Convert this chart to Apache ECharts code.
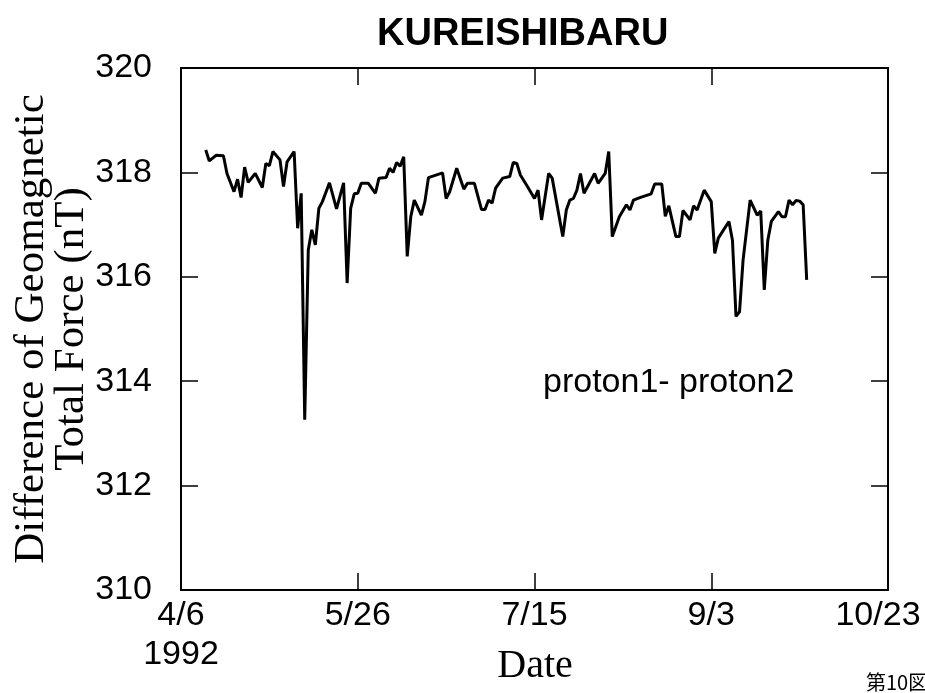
<!DOCTYPE html>
<html>
<head>
<meta charset="utf-8">
<script src="https://cdn.jsdelivr.net/npm/echarts@6/dist/echarts.min.js"></script>
<style>
  html, body { margin: 0; padding: 0; background: #fff; }
  #chart { width: 925px; height: 693px; }
</style>
</head>
<body>
<div id="chart"></div>
<script>
// days counted from 1992-04-06
const dayOffsets = [
  7, 8, 10, 12, 13, 15, 16, 17, 18, 19, 21, 23, 24, 25, 26, 28, 29, 30, 32, 33,
  34, 35, 36, 37, 38, 39, 40, 42, 44, 46, 47, 48, 49, 50, 51, 53, 55, 56, 58, 59,
  60, 61, 62, 63, 64, 65, 66, 68, 69, 70, 74, 75, 76, 78, 80, 81, 83, 85, 86, 87,
  88, 89, 91, 93, 94, 95, 96, 98, 100, 101, 102, 104, 105, 108, 109, 110, 111, 112, 113, 114,
  117, 118, 120, 121, 122, 124, 126, 127, 128, 130, 133, 134, 136, 137, 138, 140, 141, 142, 144, 145,
  146, 148, 150, 151, 152, 155, 156, 157, 158, 159, 161, 163, 164, 165, 166, 167, 169, 170, 171, 172,
  173, 174, 175, 176, 177
]
const diffValues = [
  318.43, 318.22, 318.33, 318.32, 317.98, 317.63, 317.87, 317.52, 318.10, 317.81, 317.98, 317.71, 318.17, 318.13, 318.40, 318.24, 317.73, 318.20, 318.40, 316.93,
  317.60, 313.26, 316.51, 316.90, 316.61, 317.31, 317.44, 317.80, 317.30, 317.80, 315.88, 317.31, 317.59, 317.60, 317.79, 317.79, 317.60, 317.89, 317.90, 318.08,
  318.00, 318.19, 318.12, 318.30, 316.39, 317.15, 317.47, 317.18, 317.44, 317.90, 317.99, 317.50, 317.63, 318.08, 317.68, 317.79, 317.79, 317.29, 317.29, 317.47,
  317.41, 317.70, 317.89, 317.92, 318.19, 318.17, 317.95, 317.73, 317.50, 317.66, 317.09, 317.98, 317.89, 316.77, 317.28, 317.47, 317.50, 317.66, 317.98, 317.60,
  317.98, 317.79, 317.98, 318.40, 316.77, 317.15, 317.38, 317.28, 317.47, 317.52, 317.59, 317.78, 317.78, 317.16, 317.36, 316.77, 316.77, 317.27, 317.09, 317.36,
  317.28, 317.66, 317.44, 316.45, 316.74, 317.06, 316.70, 315.24, 315.33, 316.32, 317.47, 317.18, 317.26, 315.75, 316.70, 317.06, 317.25, 317.15, 317.15, 317.47,
  317.38, 317.46, 317.45, 317.38, 315.94
]
const dateTickLabels = ['4/6\n1992', '5/26', '7/15', '9/3', '10/23']
const yTickValues = [310, 312, 314, 316, 318, 320]

const chart = echarts.init(document.getElementById('chart'))

const sans = 'Liberation Sans'
const serif = 'Liberation Serif'

const frameLine = { show: true, onZero: false, lineStyle: { color: '#000', width: 2 } }
const innerTick = { show: true, inside: true, length: 17, lineStyle: { color: '#000', width: 1.5 } }

const option = {
  backgroundColor: '#fff',
  animation: false,
  title: {
    text: 'KUREISHIBARU',
    left: 372,
    top: 11,
    textStyle: { fontFamily: sans, fontWeight: 'bold', fontSize: 38, color: '#000' }
  },
  grid: { left: 181, right: 37, top: 68, bottom: 103, outerBoundsMode: 'none' },
  xAxis: [
    {
      type: 'value',
      min: 0,
      max: 200,
      interval: 50,
      position: 'bottom',
      axisLine: frameLine,
      axisTick: innerTick,
      splitLine: { show: false },
      axisLabel: {
        color: '#000',
        fontFamily: sans,
        fontSize: 34,
        lineHeight: 39,
        margin: 6,
        formatter: (v) => {
          const i = Math.round(v / 50)
          // last label sits a little left of its tick in the original
          return i === dateTickLabels.length - 1 ? '{last|' + dateTickLabels[i] + '}' : dateTickLabels[i]
        },
        rich: {
          last: { fontFamily: sans, fontSize: 34, color: '#000', padding: [0, 20, 0, 0] }
        }
      }
    },
    {
      type: 'value',
      min: 0,
      max: 200,
      interval: 50,
      position: 'top',
      axisLine: frameLine,
      axisTick: innerTick,
      axisLabel: { show: false },
      splitLine: { show: false }
    }
  ],
  yAxis: [
    {
      type: 'value',
      min: yTickValues[0],
      max: yTickValues[yTickValues.length - 1],
      interval: 2,
      position: 'left',
      axisLine: frameLine,
      axisTick: innerTick,
      splitLine: { show: false },
      axisLabel: { color: '#000', fontFamily: sans, fontSize: 34, margin: 29 },
      name: 'Difference of Geomagnetic\nTotal Force (nT)',
      nameLocation: 'middle',
      nameGap: 89,
      nameMoveOverlap: false,
      nameTextStyle: { fontFamily: serif, fontSize: 43, lineHeight: 40, color: '#000' }
    },
    {
      type: 'value',
      min: yTickValues[0],
      max: yTickValues[yTickValues.length - 1],
      interval: 2,
      position: 'right',
      axisLine: frameLine,
      axisTick: innerTick,
      axisLabel: { show: false },
      splitLine: { show: false }
    }
  ],
  graphic: [
    {
      type: 'text',
      x: 535,
      y: 666,
      style: { text: 'Date', font: '40px "Liberation Serif"', fill: '#000', align: 'center', verticalAlign: 'middle' }
    },
    {
      type: 'text',
      left: 543,
      top: 366,
      style: { text: 'proton1- proton2', font: '34px "Liberation Sans"', fill: '#000' }
    },
    {
      type: 'text',
      left: 866,
      top: 672,
      style: { text: '第10図', font: '20px "Noto Sans CJK JP"', fill: '#000' }
    }
  ],
  series: [
    {
      type: 'line',
      data: dayOffsets.map((d, i) => [d, diffValues[i]]),
      showSymbol: false,
      lineStyle: { color: '#000', width: 3 },
      z: 3
    }
  ]
}

chart.setOption(option)
</script>
</body>
</html>
